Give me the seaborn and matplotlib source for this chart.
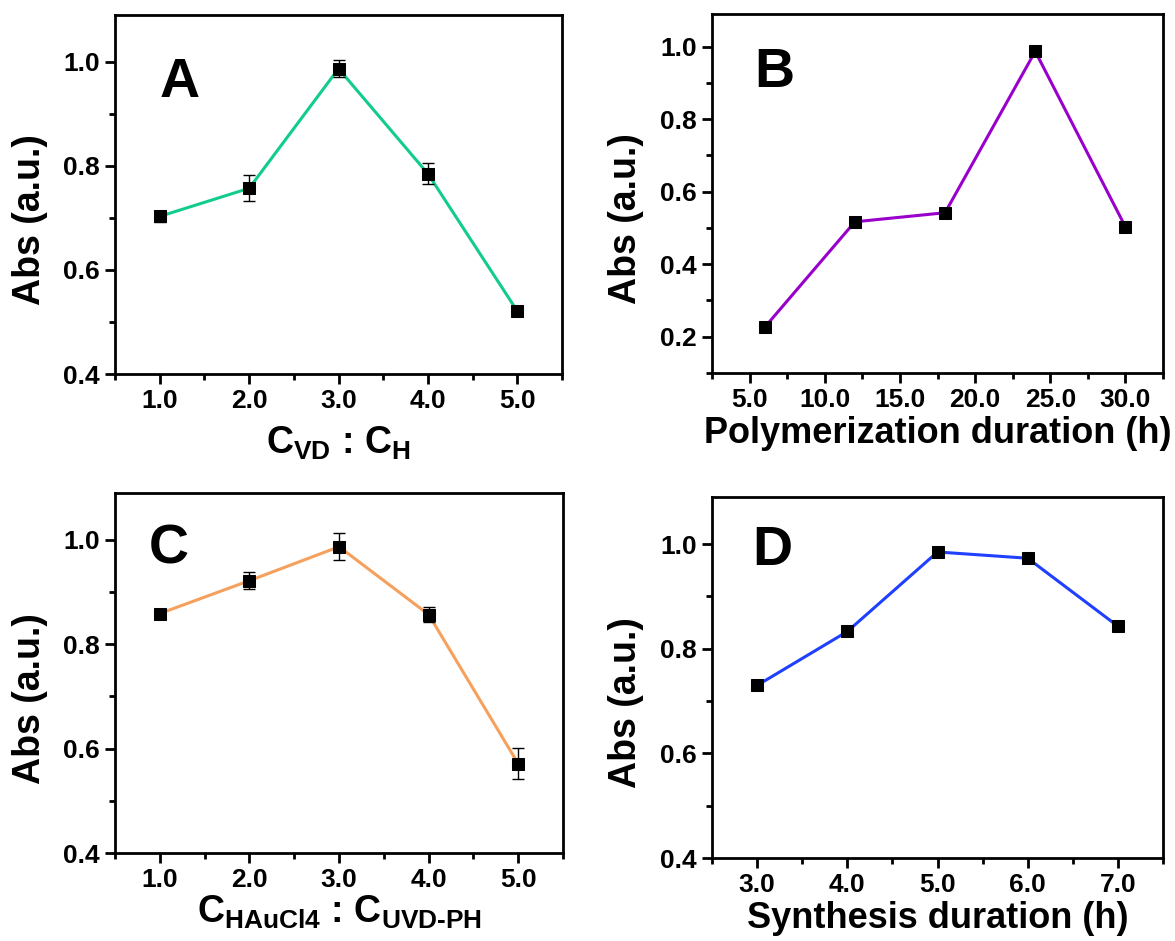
import numpy as np
import pandas as pd
import matplotlib
matplotlib.use("Agg")
import matplotlib.pyplot as plt
from matplotlib.ticker import MultipleLocator, FormatStrFormatter
import seaborn as sns

sns.set_theme(style="ticks")
plt.rcParams['font.family'] = ['Liberation Sans', 'DejaVu Sans']
plt.rcParams['font.weight'] = 'bold'
plt.rcParams['text.color'] = 'black'
plt.rcParams['axes.labelcolor'] = 'black'
plt.rcParams['xtick.color'] = 'black'
plt.rcParams['ytick.color'] = 'black'
plt.rcParams['mathtext.fontset'] = 'custom'
plt.rcParams['mathtext.rm'] = 'Liberation Sans:bold'
plt.rcParams['mathtext.bf'] = 'Liberation Sans:bold'
plt.rcParams['mathtext.it'] = 'Liberation Sans:bold'

# ---- data ----
a_x = [1.0, 2.0, 3.0, 4.0, 5.0]
a_y = [0.703, 0.757, 0.987, 0.785, 0.521]
a_err = [0.010, 0.025, 0.016, 0.020, 0.003]

b_x = [6.0, 12.0, 18.0, 24.0, 30.0]
b_y = [0.226, 0.517, 0.542, 0.987, 0.503]
b_err = [0.003, 0.003, 0.003, 0.003, 0.003]

c_x = [1.0, 2.0, 3.0, 4.0, 5.0]
c_y = [0.859, 0.922, 0.987, 0.857, 0.571]
c_err = [0.006, 0.016, 0.026, 0.014, 0.030]

d_x = [3.0, 4.0, 5.0, 6.0, 7.0]
d_y = [0.730, 0.833, 0.985, 0.973, 0.843]
d_err = [0.003, 0.008, 0.003, 0.003, 0.003]

panels = [
    dict(x=a_x, y=a_y, err=a_err, color="#12CC8E", letter="A",
         xlabel=r"$\mathbf{C_{VD}}$ : $\mathbf{C_{H}}$", xfs=27, xpad=8,
         xlim=(0.5, 5.5), xmaj=1.0, ylim=(0.4, 1.09), ymaj=0.2,
         rect=[0.0979, 0.6025, 0.3804, 0.3815], letterpos=(0.145, 0.81)),
    dict(x=b_x, y=b_y, err=b_err, color="#9A00CC", letter="B",
         xlabel="Polymerization duration (h)", xfs=26, xpad=3,
         xlim=(2.5, 32.5), xmaj=5.0, ylim=(0.1, 1.09), ymaj=0.2,
         rect=[0.606, 0.6036, 0.3838, 0.3815], letterpos=(0.137, 0.837)),
    dict(x=c_x, y=c_y, err=c_err, color="#F5A05C", letter="C",
         xlabel=r"$\mathbf{C_{HAuCl4}}$ : $\mathbf{C_{UVD\text{-}PH}}$", xfs=27, xpad=1,
         xlim=(0.5, 5.5), xmaj=1.0, ylim=(0.4, 1.09), ymaj=0.2,
         rect=[0.0979, 0.0935, 0.3813, 0.3826], letterpos=(0.12, 0.842)),
    dict(x=d_x, y=d_y, err=d_err, color="#2040FF", letter="D",
         xlabel="Synthesis duration (h)", xfs=26, xpad=3,
         xlim=(2.5, 7.5), xmaj=1.0, ylim=(0.4, 1.09), ymaj=0.2,
         rect=[0.606, 0.0882, 0.3838, 0.3836], letterpos=(0.133, 0.85)),
]

fig = plt.figure(figsize=(11.75, 9.41), dpi=100)

for p in panels:
    ax = fig.add_axes(p["rect"])
    df = pd.DataFrame({"x": p["x"], "y": p["y"]})
    sns.lineplot(data=df, x="x", y="y", ax=ax, color=p["color"], linewidth=2.2,
                 marker="s", markersize=8, markerfacecolor="black",
                 markeredgecolor="black", zorder=3)
    ax.errorbar(p["x"], p["y"], yerr=p["err"], fmt="none", ecolor="black",
                elinewidth=1.0, capsize=4, capthick=1.0, zorder=4)
    ax.xaxis.set_major_locator(MultipleLocator(p["xmaj"]))
    ax.xaxis.set_minor_locator(MultipleLocator(p["xmaj"] / 2))
    ax.yaxis.set_major_locator(MultipleLocator(p["ymaj"]))
    ax.yaxis.set_minor_locator(MultipleLocator(p["ymaj"] / 2))
    ax.xaxis.set_major_formatter(FormatStrFormatter("%.1f"))
    ax.yaxis.set_major_formatter(FormatStrFormatter("%.1f"))
    ax.set_xlim(*p["xlim"])
    ax.set_ylim(*p["ylim"])
    for s in ax.spines.values():
        s.set_visible(True)
        s.set_linewidth(2.0)
        s.set_color("black")
    ax.tick_params(axis="both", which="major", direction="out", length=7, width=2,
                   labelsize=19, pad=4, colors="black")
    ax.tick_params(axis="both", which="minor", direction="out", length=4, width=2)
    ax.tick_params(top=False, right=False, which="both")
    for lbl in ax.get_xticklabels() + ax.get_yticklabels():
        lbl.set_fontweight("bold")
    ax.set_ylabel("Abs (a.u.)", fontsize=27, fontweight="bold", color="black")
    ax.yaxis.set_label_coords(-0.15, 0.43)
    ax.set_xlabel(p["xlabel"], fontsize=p["xfs"], fontweight="bold", labelpad=p["xpad"],
                  color="black")
    ax.text(p["letterpos"][0], p["letterpos"][1], p["letter"], transform=ax.transAxes,
            fontsize=40, fontweight="bold", ha="center", va="center", color="black")
    ax.grid(False)

fig.savefig("out.png", dpi=100, facecolor="white")
